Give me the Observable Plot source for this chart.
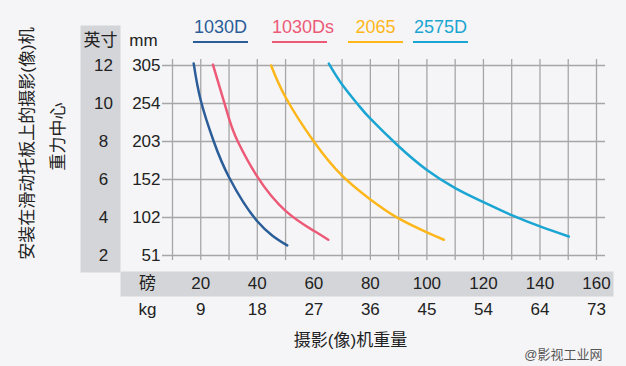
<!DOCTYPE html>
<html>
<head>
<meta charset="utf-8">
<script src="https://cdn.jsdelivr.net/npm/d3@7"></script>
<script src="https://cdn.jsdelivr.net/npm/@observablehq/plot@0.6"></script>
<style>
  html, body { margin: 0; padding: 0; background: #f5f5f7; }
  #wrap { position: relative; width: 626px; height: 366px; overflow: hidden;
          font-family: "Liberation Sans", Arial, "Noto Sans CJK SC", sans-serif; }
  #legend { position: absolute; top: 16px; left: 193px; display: flex; }
  #legend .item { width: 55px; font-size: 18px; line-height: 22px; padding-bottom: 3px;
                  border-bottom: 2px solid; text-align: center; white-space: nowrap; }
  svg { display: block; }
</style>
</head>
<body>
<div id="wrap"><div id="legend"></div><div id="chart"></div></div>
<script>
// Series names and colors
const seriesNames = ["1030D", "1030Ds", "2065", "2575D"];
const seriesColors = ["#2b5d98", "#ec5a78", "#fdb71a", "#1ba5d2"];

// Camera weight (lbs) vs. center-of-gravity height (inches)
const lbs1030D  = [17.5, 20, 24.6, 30, 40, 50.6];
const in1030D   = [12.1, 10.16, 8.0, 6.12, 3.8, 2.53];
const lbs1030Ds = [24.3, 30, 33.1, 40, 50, 60, 65.1];
const in1030Ds  = [12.05, 9.2, 8.0, 6.15, 4.35, 3.3, 2.83];
const lbs2065   = [44.9, 50, 60, 70, 80, 90, 100, 106];
const in2065    = [12.0, 10.33, 8.0, 6.2, 4.95, 3.95, 3.22, 2.83];
const lbs2575D  = [65.3, 70, 75.6, 80, 90, 100, 110, 120, 130, 140, 150.2];
const in2575D   = [12.1, 11.0, 9.95, 9.2, 7.75, 6.5, 5.55, 4.81, 4.12, 3.53, 3.0];

// Axis tick labels
const inchTicks = [2, 4, 6, 8, 10, 12];
const mmLabels  = [51, 102, 152, 203, 254, 305];
const lbsTicks  = [20, 40, 60, 80, 100, 120, 140, 160];
const kgLabels  = [9, 18, 27, 36, 45, 54, 64, 73];
const gridLbs   = [10, 20, 30, 40, 50, 60, 70, 80, 90, 100, 110, 120, 130, 140, 150, 160];

const yTitle1 = "安装在滑动托板上的摄影(像)机";
const yTitle2 = "重力中心";
const xTitle = "摄影(像)机重量";
const watermark = "@影视工业网";

const seriesData = [
  [lbs1030D, in1030D], [lbs1030Ds, in1030Ds], [lbs2065, in2065], [lbs2575D, in2575D]
];
const rows = seriesData.flatMap(([xs, ys], i) =>
  xs.map((x, j) => ({series: seriesNames[i], lbs: x, inch: ys[j]})));

// legend
const legend = document.getElementById("legend");
const gaps = [0, 24, 21, 10];
seriesNames.forEach((n, i) => {
  const d = document.createElement("div");
  d.className = "item";
  d.textContent = n;
  d.style.color = seriesColors[i];
  d.style.borderColor = seriesColors[i];
  d.style.marginLeft = gaps[i] + "px";
  legend.appendChild(d);
});

const font = 17;
const ink = "#222";
const chart = Plot.plot({
  width: 626,
  height: 366,
  marginLeft: 172,
  marginRight: 30,
  marginTop: 65,
  marginBottom: 111,
  style: {background: "transparent", fontFamily: "'Liberation Sans', Arial, 'Noto Sans CJK SC', sans-serif", color: ink},
  x: {domain: [10, 160], axis: null},
  y: {domain: [2, 12], axis: null},
  color: {domain: seriesNames, range: seriesColors},
  marks: [
    // label bands
    Plot.frame({fill: "#d4d5d8", stroke: null, insetLeft: -92, insetRight: 476, insetTop: -40, insetBottom: -17}),
    Plot.frame({fill: "#d4d5d8", stroke: null, insetLeft: -52, insetRight: -17, insetTop: 206, insetBottom: -41}),
    // grid
    Plot.ruleX(gridLbs, {stroke: "#a6a6a6", strokeWidth: 1.3, insetTop: -6, insetBottom: -5}),
    Plot.ruleY(inchTicks, {stroke: "#a6a6a6", strokeWidth: 1.3, insetLeft: -10, insetRight: -9}),
    // inch labels
    Plot.text(inchTicks, {y: d => d, text: d => String(d), frameAnchor: "left", dx: -69, textAnchor: "middle", lineAnchor: "middle", fontSize: font, fill: ink}),
    // mm labels
    Plot.text(inchTicks, {y: d => d, text: (d, i) => String(mmLabels[i]), frameAnchor: "left", dx: -12, textAnchor: "end", lineAnchor: "middle", fontSize: font, fill: ink}),
    // headers
    Plot.text(["英寸"], {frameAnchor: "top-left", dx: -72, dy: -25, textAnchor: "middle", lineAnchor: "middle", fontSize: font, fill: ink}),
    Plot.text(["mm"], {frameAnchor: "top-left", dx: -29, dy: -25, textAnchor: "middle", lineAnchor: "middle", fontSize: font, fill: ink}),
    // lbs labels
    Plot.text(lbsTicks, {x: d => d, text: d => String(d), frameAnchor: "bottom", dy: 28, lineAnchor: "middle", fontSize: font, fill: ink}),
    Plot.text(["磅"], {frameAnchor: "bottom-left", dx: -25, dy: 28, textAnchor: "middle", lineAnchor: "middle", fontSize: font, fill: ink}),
    // kg labels
    Plot.text(lbsTicks, {x: d => d, text: (d, i) => String(kgLabels[i]), frameAnchor: "bottom", dy: 54, lineAnchor: "middle", fontSize: font, fill: ink}),
    Plot.text(["kg"], {frameAnchor: "bottom-left", dx: -25, dy: 54, textAnchor: "middle", lineAnchor: "middle", fontSize: font, fill: ink}),
    // titles
    Plot.text([yTitle1], {frameAnchor: "left", dx: -145, dy: -17, rotate: -90, textAnchor: "middle", lineAnchor: "middle", fontSize: 17, fill: ink}),
    Plot.text([yTitle2], {frameAnchor: "left", dx: -114, dy: -24, rotate: -90, textAnchor: "middle", lineAnchor: "middle", fontSize: 17, fill: ink}),
    Plot.text([xTitle], {frameAnchor: "bottom", dx: -34, dy: 85, textAnchor: "middle", lineAnchor: "middle", fontSize: 17, fill: ink}),
    Plot.text([watermark], {frameAnchor: "bottom-right", dx: 6, dy: 99, textAnchor: "end", lineAnchor: "middle", fontSize: 13, fill: "#555"}),
    // curves
    Plot.line(rows, {x: "lbs", y: "inch", z: "series", stroke: "series", strokeWidth: 2.5, curve: "natural"})
  ]
});
document.getElementById("chart").appendChild(chart);
</script>
</body>
</html>
